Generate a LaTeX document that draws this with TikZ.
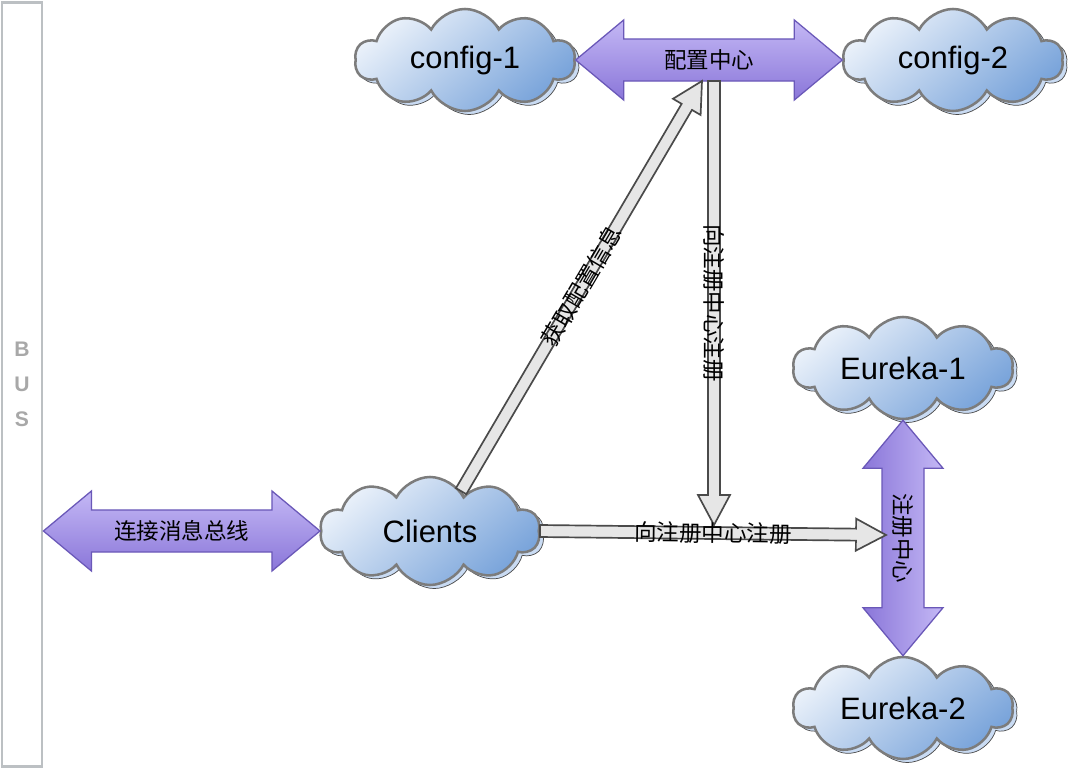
\documentclass[tikz,border=0pt]{standalone}
\usepackage{fontspec}
\setmainfont{Liberation Sans}
\newfontfamily\cjk{Noto Sans CJK SC}
\usetikzlibrary{shapes.symbols,shadows,calc}

\definecolor{cloudlight}{HTML}{EAF1FA}
\definecolor{clouddark}{HTML}{78A3DA}
\definecolor{cloudshade}{HTML}{C9DBF3}
\definecolor{cloudline}{HTML}{7C7C7C}
\definecolor{purplight}{HTML}{C4B8F5}
\definecolor{purpdark}{HTML}{8A76D9}
\definecolor{purpline}{HTML}{6A58B8}
\definecolor{greyfill}{HTML}{E6E6E6}
\definecolor{greyline}{HTML}{4A4A4A}
\definecolor{busline}{HTML}{BCC0C3}
\definecolor{bustext}{HTML}{A8A8A8}

\tikzset{
    server/.style={cloud, cloud puffs=10, cloud puff arc=125, cloud ignores aspect,
        minimum width=5.5cm, minimum height=2.55cm, draw=cloudline, line width=1.8pt,
        top color=cloudlight, bottom color=clouddark, shading angle=40,
        copy shadow={shadow xshift=3pt, shadow yshift=-2.5pt, fill=cloudshade,
            draw=greyline, line width=0.5pt},
        font=\fontsize{22}{26}\selectfont},
    bus/.style={draw=busline, line width=2pt, minimum width=1cm, minimum height=19.1cm,
        text=bustext, align=center, font=\bfseries\fontsize{15}{25}\selectfont},
    purp/.style={draw=purpline, line width=0.9pt, top color=purplight, bottom color=purpdark},
    purpv/.style={draw=purpline, line width=0.9pt, left color=purpdark, right color=purplight},
    grey/.style={draw=greyline, line width=1.2pt, fill=greyfill},
    arrowtext/.style={sloped, allow upside down, inner sep=0pt,
        font=\cjk\fontsize{16}{18}\selectfont}
}

% fat double arrow: style, from, to, label
\newcommand{\dblarrow}[4]{
    \coordinate (ha) at ($(#2)!1.2cm!(#3)$);
    \coordinate (hb) at ($(#3)!1.2cm!(#2)$);
    \path[#1] (#2) -- ($(ha)!1cm!90:(#3)$) -- ($(ha)!0.525cm!90:(#3)$)
        -- ($(hb)!0.525cm!90:(#3)$) -- ($(hb)!1cm!90:(#3)$) -- (#3)
        -- ($(hb)!1cm!-90:(#3)$) -- ($(hb)!0.525cm!-90:(#3)$)
        -- ($(ha)!0.525cm!-90:(#3)$) -- ($(ha)!1cm!-90:(#3)$) -- cycle;
    \path (#2) -- node[arrowtext] {#4} (#3);
}
% fat single arrow: from, to, label
\newcommand{\fatarrow}[3]{
    \coordinate (hb) at ($(#2)!0.75cm!(#1)$);
    \path[grey] ($(#1)!0.15cm!90:(#2)$) -- ($(hb)!0.15cm!90:(#2)$)
        -- ($(hb)!0.4cm!90:(#2)$) -- (#2) -- ($(hb)!0.4cm!-90:(#2)$)
        -- ($(hb)!0.15cm!-90:(#2)$) -- ($(#1)!0.15cm!-90:(#2)$) -- cycle;
    \path (#1) -- node[arrowtext] {#3} (#2);
}

\begin{document}
\begin{tikzpicture}[x=0.025cm, y=-0.025cm]
    \useasboundingbox (0,0) rectangle (1088,770);
    \node[bus] (bus) at (22,384.5) {B\\U\\S};   % message bus
    \node[server] (config1) at (465,60) {config-1};
    \node[server] (config2) at (953,60) {config-2};
    \node[server, minimum height=2.7cm] (clients) at (430,531) {Clients};
    \node[server] (eureka1) at (903,368) {Eureka-1};
    \node[server] (eureka2) at (903,708) {Eureka-2};
    % free ends of the arrows
    \coordinate (busin) at (bus.east |- clients.west);
    \coordinate (cfgin) at (702,81);
    \coordinate (cfgout) at (714,81);
    \coordinate (regdrop) at (714,525);
    \coordinate (eurin) at (886,535);
    \dblarrow{purp}{config1.east}{config2.west}{配置中心}
    \dblarrow{purp}{busin}{clients.west}{连接消息总线}
    \dblarrow{purpv}{eureka1.south}{eureka2.north}{注册中心}
    \fatarrow{clients.52}{cfgin}{获取配置信息}
    \fatarrow{cfgout}{regdrop}{向注册中心注册}
    \fatarrow{clients.east}{eurin}{向注册中心注册}
\end{tikzpicture}
\end{document}
